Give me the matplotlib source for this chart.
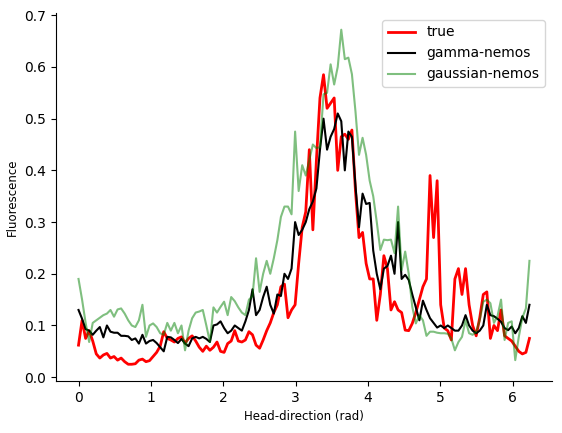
import numpy as np
import matplotlib
matplotlib.use("Agg")
import matplotlib.pyplot as plt

# ==============================
# DATA
# ==============================
n_bins = 128

true_tc = [
    0.062, 0.11, 0.075, 0.09, 0.07, 0.045, 0.037, 0.043, 0.046, 0.037,
    0.04, 0.033, 0.037, 0.03, 0.025, 0.025, 0.026, 0.033, 0.035, 0.03,
    0.032, 0.04, 0.048, 0.06, 0.088, 0.075, 0.072, 0.068, 0.075, 0.078,
    0.066, 0.075, 0.08, 0.07, 0.058, 0.05, 0.06, 0.052, 0.058, 0.068,
    0.05, 0.048, 0.065, 0.07, 0.09, 0.07, 0.068, 0.072, 0.088, 0.082,
    0.062, 0.056, 0.072, 0.09, 0.105, 0.125, 0.14, 0.175, 0.18, 0.115,
    0.13, 0.14, 0.22, 0.29, 0.32, 0.44, 0.285, 0.42, 0.54, 0.585,
    0.52, 0.53, 0.54, 0.4, 0.465, 0.47, 0.46, 0.478, 0.36, 0.27,
    0.28, 0.22, 0.19, 0.19, 0.11, 0.16, 0.235, 0.21, 0.13, 0.146,
    0.13, 0.125, 0.091, 0.09, 0.104, 0.125, 0.15, 0.175, 0.19, 0.39,
    0.27, 0.38, 0.14, 0.095, 0.09, 0.072, 0.19, 0.21, 0.16, 0.21,
    0.14, 0.1, 0.08, 0.115, 0.16, 0.165, 0.075, 0.1, 0.09, 0.13,
    0.08, 0.075, 0.07, 0.06, 0.05, 0.045, 0.048, 0.075,
]

gamma_tc = [
    0.13, 0.113, 0.093, 0.09, 0.082, 0.09, 0.097, 0.077, 0.1, 0.088,
    0.086, 0.086, 0.08, 0.08, 0.079, 0.072, 0.075, 0.065, 0.082, 0.065,
    0.07, 0.072, 0.066, 0.058, 0.05, 0.078, 0.077, 0.072, 0.066, 0.074,
    0.065, 0.06, 0.075, 0.078, 0.075, 0.078, 0.074, 0.068, 0.1, 0.102,
    0.108, 0.095, 0.085, 0.09, 0.1, 0.095, 0.09, 0.108, 0.13, 0.17,
    0.12, 0.13, 0.155, 0.175, 0.14, 0.123, 0.16, 0.157, 0.2, 0.19,
    0.21, 0.3, 0.275, 0.285, 0.3, 0.325, 0.34, 0.365, 0.44, 0.5,
    0.44, 0.465, 0.48, 0.51, 0.495, 0.4, 0.475, 0.465, 0.37, 0.29,
    0.355, 0.335, 0.337, 0.245, 0.2, 0.17, 0.21, 0.215, 0.235, 0.2,
    0.3, 0.19, 0.198, 0.188, 0.16, 0.135, 0.11, 0.148, 0.13, 0.114,
    0.105, 0.096, 0.1, 0.095, 0.1, 0.095, 0.09, 0.09, 0.1, 0.12,
    0.1, 0.09, 0.085, 0.09, 0.1, 0.14, 0.12, 0.118, 0.113, 0.107,
    0.095, 0.091, 0.098, 0.085, 0.095, 0.118, 0.105, 0.14,
]

gauss_tc = [
    0.19, 0.15, 0.105, 0.068, 0.105, 0.11, 0.115, 0.12, 0.123, 0.13,
    0.117, 0.131, 0.133, 0.123, 0.11, 0.1, 0.097, 0.11, 0.14, 0.078,
    0.1, 0.104, 0.097, 0.085, 0.082, 0.105, 0.09, 0.105, 0.085, 0.1,
    0.052, 0.09, 0.114, 0.125, 0.127, 0.13, 0.1, 0.068, 0.135, 0.125,
    0.136, 0.146, 0.12, 0.155, 0.147, 0.135, 0.125, 0.12, 0.15, 0.157,
    0.23, 0.165, 0.2, 0.225, 0.2, 0.23, 0.265, 0.31, 0.33, 0.33,
    0.315, 0.475, 0.36, 0.41, 0.39, 0.42, 0.45, 0.443, 0.445, 0.547,
    0.55, 0.605, 0.566, 0.6, 0.672, 0.615, 0.618, 0.586, 0.514, 0.43,
    0.463, 0.43, 0.38, 0.35, 0.3, 0.246, 0.266, 0.265, 0.266, 0.24,
    0.33, 0.207, 0.243, 0.2, 0.136, 0.104, 0.12, 0.11, 0.08, 0.088,
    0.088, 0.086, 0.085, 0.085, 0.084, 0.075, 0.052, 0.068, 0.078, 0.11,
    0.085, 0.082, 0.088, 0.11, 0.146, 0.15, 0.143, 0.105, 0.118, 0.15,
    0.072, 0.105, 0.108, 0.033, 0.078, 0.115, 0.133, 0.225,
]

# head-direction bins
hd = np.linspace(0, 2 * np.pi, n_bins, endpoint=False)

# ==============================
# PLOT
# ==============================
fig = plt.figure(figsize=(5.62, 4.33), dpi=100)
ax = fig.add_axes([0.0996, 0.1201, 0.8826, 0.8499])

ax.plot(hd, true_tc, color="red", lw=2, label="true")
ax.plot(hd, gamma_tc, color="black", lw=1.5, label="gamma-nemos")
ax.plot(hd, gauss_tc, color="green", lw=1.5, alpha=0.5, label="gaussian-nemos")

ax.set_xlabel("Head-direction (rad)", fontsize=8.5)
ax.set_ylabel("Fluorescence", fontsize=8.5)
ax.spines["top"].set_visible(False)
ax.spines["right"].set_visible(False)
ax.legend(loc="upper right")

fig.savefig("out.png", dpi=100)
plt.close(fig)
